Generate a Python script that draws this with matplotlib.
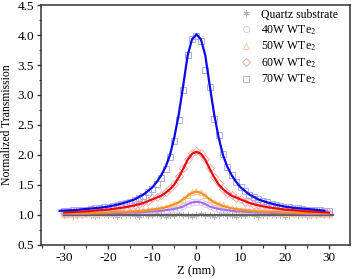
import numpy as np
import matplotlib.pyplot as plt
from matplotlib.ticker import MultipleLocator

plt.rcParams['font.family'] = ['Liberation Serif', 'DejaVu Serif']
plt.rcParams['mathtext.fontset'] = 'stix'
plt.rcParams['axes.unicode_minus'] = False

# measured points, z = -30 ... 30 mm, 1 mm step
z = np.arange(-30, 31, 1)

quartz = [1.00, 1.01, 0.99, 1.00, 1.00, 1.01, 1.00, 0.99, 1.00, 1.01,
          1.00, 1.00, 0.99, 1.00, 1.01, 1.00, 1.00, 0.99, 1.01, 1.00,
          1.00, 1.01, 1.00, 0.99, 1.00, 1.00, 1.01, 1.00, 1.00, 0.99,
          1.00, 1.01, 1.00, 1.00, 0.99, 1.00, 1.01, 1.00, 1.00, 0.99,
          1.00, 1.00, 1.01, 1.00, 0.99, 1.00, 1.00, 1.01, 1.00, 1.00,
          0.99, 1.00, 1.01, 1.00, 1.00, 0.99, 1.00, 1.00, 1.01, 1.00,
          1.00]
w40 = [1.01, 1.02, 1.01, 1.02, 1.02, 1.02, 1.03, 1.02, 1.03, 1.03,
       1.03, 1.04, 1.03, 1.04, 1.04, 1.04, 1.05, 1.05, 1.05, 1.06,
       1.06, 1.07, 1.07, 1.08, 1.09, 1.10, 1.12, 1.15, 1.18, 1.21,
       1.22, 1.21, 1.18, 1.15, 1.12, 1.10, 1.09, 1.08, 1.07, 1.06,
       1.06, 1.06, 1.05, 1.05, 1.05, 1.04, 1.04, 1.04, 1.03, 1.03,
       1.03, 1.03, 1.02, 1.03, 1.02, 1.02, 1.02, 1.02, 1.01, 1.02,
       1.01]
w50 = [1.02, 1.03, 1.02, 1.03, 1.03, 1.04, 1.03, 1.04, 1.04, 1.05,
       1.04, 1.05, 1.05, 1.06, 1.05, 1.06, 1.07, 1.07, 1.08, 1.09,
       1.09, 1.11, 1.12, 1.14, 1.15, 1.18, 1.22, 1.27, 1.33, 1.38,
       1.40, 1.38, 1.33, 1.27, 1.22, 1.18, 1.16, 1.13, 1.12, 1.10,
       1.09, 1.08, 1.08, 1.07, 1.06, 1.06, 1.05, 1.05, 1.05, 1.04,
       1.04, 1.04, 1.04, 1.03, 1.03, 1.03, 1.03, 1.03, 1.02, 1.03,
       1.02]
w60 = [1.03, 1.04, 1.05, 1.04, 1.06, 1.05, 1.07, 1.06, 1.08, 1.09,
       1.08, 1.10, 1.11, 1.12, 1.12, 1.15, 1.16, 1.19, 1.21, 1.23,
       1.28, 1.30, 1.34, 1.38, 1.45, 1.52, 1.65, 1.78, 1.93, 2.03,
       2.06, 2.04, 1.94, 1.79, 1.64, 1.53, 1.44, 1.36, 1.33, 1.28,
       1.27, 1.22, 1.21, 1.17, 1.16, 1.14, 1.13, 1.12, 1.10, 1.10,
       1.09, 1.08, 1.07, 1.07, 1.06, 1.06, 1.05, 1.05, 1.04, 1.04,
       1.04]
w70 = [1.07, 1.07, 1.08, 1.08, 1.09, 1.09, 1.10, 1.11, 1.12, 1.13,
       1.14, 1.15, 1.16, 1.18, 1.20, 1.22, 1.25, 1.28, 1.32, 1.38,
       1.44, 1.52, 1.62, 1.76, 1.96, 2.24, 2.58, 3.08, 3.66, 3.93,
       3.99, 3.90, 3.42, 3.14, 2.60, 2.33, 2.02, 1.80, 1.66, 1.55,
       1.47, 1.40, 1.34, 1.30, 1.26, 1.23, 1.21, 1.19, 1.17, 1.15,
       1.14, 1.13, 1.12, 1.11, 1.10, 1.09, 1.09, 1.08, 1.08, 1.07,
       1.07]

# fitted curves
zf = [-30, -28, -25, -22, -20, -18, -16, -14, -12, -10, -9, -8, -7, -6, -5,
      -4, -3, -2, -1, 0, 1, 2, 3, 4, 5, 6, 7, 8, 9, 10, 12, 14, 16, 18, 20,
      22, 25, 28, 30]
zf70 = [-31, -28, -25, -22, -20, -18, -16, -14, -12, -10, -9, -8, -7, -6, -5,
        -4, -3, -2, -1, 0, 1, 2, 3, 4, 5, 6, 7, 8, 9, 10, 12, 14, 16, 18, 20,
        22, 25, 28, 29]
fit40 = [1.02, 1.02, 1.02, 1.03, 1.03, 1.03, 1.04, 1.04, 1.05, 1.06, 1.06,
         1.07, 1.08, 1.09, 1.10, 1.12, 1.14, 1.18, 1.21, 1.22, 1.21, 1.18,
         1.14, 1.12, 1.10, 1.09, 1.08, 1.07, 1.06, 1.06, 1.05, 1.04, 1.04,
         1.03, 1.03, 1.03, 1.02, 1.02, 1.02]
fit50 = [1.03, 1.03, 1.03, 1.04, 1.04, 1.05, 1.05, 1.06, 1.07, 1.09, 1.10,
         1.11, 1.13, 1.15, 1.18, 1.21, 1.26, 1.32, 1.37, 1.39, 1.37, 1.32,
         1.26, 1.21, 1.18, 1.15, 1.13, 1.11, 1.10, 1.09, 1.07, 1.06, 1.05,
         1.05, 1.04, 1.04, 1.03, 1.03, 1.03]
fit60 = [1.04, 1.05, 1.06, 1.08, 1.09, 1.11, 1.13, 1.16, 1.20, 1.26, 1.29,
         1.32, 1.37, 1.43, 1.51, 1.63, 1.77, 1.92, 2.02, 2.055, 2.02, 1.92,
         1.77, 1.63, 1.51, 1.43, 1.37, 1.32, 1.29, 1.26, 1.20, 1.16, 1.13,
         1.11, 1.09, 1.08, 1.06, 1.05, 1.04]
fit70 = [1.07, 1.08, 1.10, 1.12, 1.14, 1.17, 1.21, 1.26, 1.34, 1.46, 1.55,
         1.66, 1.80, 2.00, 2.30, 2.68, 3.16, 3.66, 3.93, 4.01, 3.93, 3.66,
         3.16, 2.68, 2.30, 2.00, 1.80, 1.66, 1.55, 1.46, 1.34, 1.26, 1.21,
         1.17, 1.14, 1.12, 1.10, 1.08, 1.07]
zq = [-30, 31]
fitq = [1.0, 1.0]

fig = plt.figure(figsize=(3.54, 2.79), dpi=100)
ax = fig.add_axes([0.116, 0.122, 0.873, 0.860])

ms = 4.4
ax.plot(z, quartz, ls='none', marker=(6, 2, 0), ms=ms, mfc='none',
        mec='#b4b4b4', mew=0.6, label='Quartz substrate')
ax.plot(z, w40, ls='none', marker='o', ms=ms, mfc='none', mec='#dcc8f4',
        mew=0.7, label='40W WTe$_2$')
ax.plot(z, w50, ls='none', marker='^', ms=ms, mfc='none', mec='#f6caa0',
        mew=0.7, label='50W WTe$_2$')
ax.plot(z, w60, ls='none', marker='D', ms=ms - 0.6, mfc='none', mec='#f2aab0',
        mew=0.7, label='60W WTe$_2$')
ax.plot(z, w70, ls='none', marker='s', ms=ms, mfc='none', mec='#ababf0',
        mew=0.7, label='70W WTe$_2$')

ax.plot(zq, fitq, color='#606060', lw=1.5)
ax.plot(zf, fit40, color='#a070f0', lw=1.5)
ax.plot(zf, fit50, color='#f7901e', lw=1.6)
ax.plot(zf, fit60, color='#ee0a0a', lw=1.6)
ax.plot(zf70, fit70, color='#0a0ae6', lw=1.6)

ax.set_xlim(-35.2, 34.8)
ax.set_ylim(0.5, 4.5)
ax.xaxis.set_major_locator(MultipleLocator(10))
ax.xaxis.set_minor_locator(MultipleLocator(5))
ax.yaxis.set_major_locator(MultipleLocator(0.5))
ax.yaxis.set_minor_locator(MultipleLocator(0.25))
ax.tick_params(which='major', direction='out', length=3, width=1,
               labelsize=9.5, pad=2, colors='#333333', labelcolor='black')
ax.tick_params(which='minor', direction='out', length=1.8, width=0.8,
               colors='#333333')
for s in ax.spines.values():
    s.set_linewidth(1.1)
    s.set_color('#333333')

ax.set_xlabel('Z (mm)', fontsize=9, labelpad=1)
ax.set_ylabel('Normalized Transmission', fontsize=8.5, labelpad=3)

ax.legend(loc='upper right', bbox_to_anchor=(0.985, 1.015), frameon=False,
          fontsize=8.5, handlelength=1.0, handletextpad=0.8,
          labelspacing=0.25, borderaxespad=0.2)

fig.savefig('out.png', dpi=100)
